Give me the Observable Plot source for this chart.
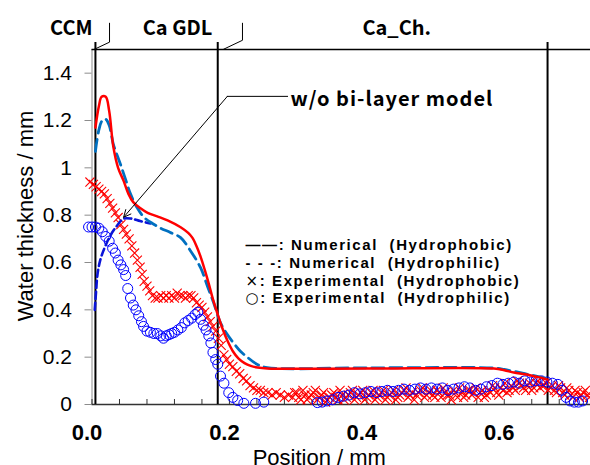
<!DOCTYPE html>
<html><head><meta charset="utf-8">
<script src="https://cdn.jsdelivr.net/npm/d3@7"></script>
<script src="https://cdn.jsdelivr.net/npm/@observablehq/plot@0.6"></script>
<style>body{margin:0;background:#fff} svg{display:block}</style>
</head><body><div id="chart"></div>
<script>
// ---------- DATA ----------
const numPhobicX = [0.005,0.010,0.014,0.020,0.025,0.031,0.038,0.046,0.053,0.060,0.070,0.081,0.095,0.110,0.129,0.140,0.146,0.152,0.158,0.164,0.170,0.176,0.183,0.190,0.197,0.205,0.213,0.222,0.231,0.241,0.255,0.400,0.585,0.600,0.614,0.630,0.643,0.655,0.663];
const numPhobicY = [1.17,1.26,1.30,1.30,1.24,1.09,1.00,0.945,0.89,0.855,0.83,0.81,0.795,0.778,0.749,0.725,0.705,0.67,0.625,0.57,0.51,0.445,0.38,0.32,0.27,0.225,0.195,0.175,0.163,0.156,0.152,0.152,0.152,0.145,0.135,0.128,0.12,0.112,0.105];

const numPhilicX = [0.005,0.010,0.015,0.020,0.025,0.031,0.037,0.042,0.049,0.056,0.066,0.076,0.088,0.100,0.114,0.129,0.143,0.158,0.168,0.177,0.187,0.196,0.206,0.216,0.226,0.240,0.255,0.400,0.585,0.600,0.614,0.630,0.643,0.655,0.663];
const numPhilicY = [1.07,1.16,1.20,1.205,1.18,1.10,1.05,1.01,0.95,0.89,0.83,0.79,0.765,0.745,0.727,0.705,0.651,0.578,0.50,0.43,0.345,0.30,0.26,0.225,0.20,0.17,0.156,0.155,0.154,0.148,0.14,0.13,0.122,0.114,0.108];

const noBilayerX = [0.004,0.006,0.008,0.012,0.018,0.026,0.035,0.046,0.058,0.070,0.085];
const noBilayerY = [0.40,0.48,0.55,0.61,0.66,0.71,0.75,0.785,0.785,0.775,0.765];

const expPhobicX = [-0.003,0.002,0.006,0.010,0.014,0.018,0.022,0.026,0.030,0.034,0.038,0.042,0.046,0.050,0.054,0.058,0.062,0.066,0.070,0.073,0.076,0.080,0.084,0.088,0.092,0.096,0.100,0.104,0.108,0.112,0.116,0.120,0.124,0.128,0.132,0.136,0.140,0.144,0.148,0.152,0.156,0.160,0.164,0.168,0.172,0.176,0.180,0.184,0.188,0.192,0.196,0.200,0.205,0.210,0.215,0.220,0.225,0.230,0.235,0.240,0.245,0.250,0.256,0.262,0.268,0.274,0.280,0.286,
0.292,0.298,0.304,0.310,0.316,0.322,0.328,0.334,0.340,0.346,0.352,0.358,0.364,0.370,0.376,0.382,0.388,0.394,0.400,0.406,0.412,0.418,0.424,0.430,0.436,0.442,0.448,0.454,0.460,0.466,0.472,0.478,0.484,0.490,0.496,0.502,0.508,0.514,0.520,0.526,0.532,0.538,0.544,0.550,0.556,0.562,0.568,0.574,0.580,0.586,0.592,0.598,0.604,0.610,0.616,0.622,0.628,0.634,0.640,0.646,0.652,0.658,0.664,0.670,0.676,0.682,0.688,0.694,0.700,0.706,0.712,0.718,0.724,
0.295,0.301,0.307,0.313,0.319,0.325,0.331,0.337,0.343,0.349,0.355,0.361,0.367,0.373,0.379,0.385,0.391,0.397,0.403,0.409,0.415,0.421,0.427,0.433,0.439,0.445,0.451,0.457,0.463,0.469,0.475,0.481,0.487,0.493,0.499,0.505,0.511,0.517,0.523,0.529,0.535,0.541,0.547,0.553,0.559,0.565,0.571,0.577,0.583,0.589,0.595,0.601,0.607,0.613,0.619,0.625,0.631,0.637,0.643,0.649,0.655,0.661,0.667,0.673,0.679,0.685,0.691,0.697,0.703,0.709,0.715,0.721];
const expPhobicY = [0.94,0.93,0.92,0.91,0.90,0.89,0.87,0.85,0.83,0.81,0.79,0.76,0.74,0.72,0.70,0.67,0.64,0.61,0.58,0.55,0.52,0.50,0.48,0.46,0.45,0.45,0.46,0.45,0.46,0.45,0.46,0.45,0.47,0.46,0.46,0.45,0.46,0.46,0.45,0.43,0.42,0.41,0.39,0.37,0.35,0.33,0.31,0.28,0.25,0.21,0.19,0.17,0.16,0.14,0.13,0.11,0.10,0.08,0.07,0.06,0.06,0.05,0.05,0.04,0.05,0.04,0.03,0.04,
0.03,0.05,0.02,0.04,0.03,0.05,0.02,0.04,0.01,0.03,0.05,0.02,0.04,0.03,0.05,0.02,0.04,0.06,0.03,0.05,0.02,0.04,0.06,0.03,0.05,0.02,0.04,0.06,0.03,0.05,0.04,0.06,0.03,0.05,0.04,0.06,0.03,0.05,0.04,0.06,0.03,0.05,0.04,0.06,0.05,0.03,0.06,0.04,0.05,0.07,0.04,0.06,0.05,0.08,0.06,0.09,0.07,0.08,0.06,0.09,0.07,0.08,0.06,0.08,0.05,0.07,0.04,0.06,0.03,0.05,0.04,0.06,0.03,
0.05,0.03,0.06,0.02,0.04,0.06,0.03,0.05,0.02,0.04,0.03,0.06,0.02,0.04,0.06,0.03,0.05,0.02,0.04,0.06,0.03,0.05,0.02,0.04,0.06,0.03,0.05,0.07,0.04,0.02,0.05,0.07,0.04,0.06,0.03,0.05,0.07,0.04,0.02,0.05,0.07,0.03,0.06,0.04,0.07,0.05,0.03,0.06,0.08,0.05,0.07,0.09,0.06,0.07,0.10,0.08,0.06,0.09,0.07,0.10,0.08,0.09,0.07,0.06,0.08,0.05,0.07,0.04,0.06,0.03,0.05,0.04];

const expPhilicX = [-0.005,0.000,0.005,0.010,0.015,0.020,0.025,0.030,0.034,0.038,0.042,0.046,0.049,0.052,0.056,0.060,0.064,0.068,0.072,0.075,0.080,0.085,0.090,0.095,0.100,0.104,0.108,0.112,0.116,0.120,0.125,0.130,0.135,0.140,0.145,0.150,0.154,0.158,0.162,0.166,0.170,0.173,0.176,0.180,0.183,0.187,0.192,0.199,0.205,0.212,0.221,0.238,0.250,
0.328,0.335,0.342,0.350,0.358,0.366,0.374,0.382,0.390,0.398,0.406,0.414,0.422,0.430,0.438,0.446,0.454,0.462,0.470,0.478,0.486,0.494,0.502,0.510,0.518,0.526,0.534,0.542,0.550,0.558,0.566,0.574,0.582,0.590,0.598,0.606,0.614,0.622,0.630,0.638,0.646,0.654,0.662,0.670,0.678,0.684,0.690,0.696,0.702,0.708,0.714];
const expPhilicY = [0.75,0.75,0.75,0.745,0.73,0.71,0.69,0.66,0.64,0.61,0.59,0.57,0.545,0.49,0.45,0.42,0.40,0.375,0.35,0.33,0.31,0.305,0.30,0.30,0.29,0.28,0.29,0.295,0.30,0.305,0.315,0.325,0.345,0.355,0.365,0.38,0.39,0.36,0.335,0.315,0.29,0.26,0.22,0.19,0.17,0.12,0.09,0.05,0.03,0.017,0.005,0.005,0.01,
0.008,0.01,0.015,0.02,0.03,0.035,0.04,0.05,0.045,0.05,0.055,0.05,0.055,0.06,0.055,0.06,0.065,0.06,0.065,0.07,0.065,0.07,0.065,0.07,0.06,0.065,0.07,0.075,0.07,0.06,0.065,0.075,0.08,0.09,0.085,0.09,0.095,0.09,0.10,0.095,0.10,0.10,0.095,0.09,0.085,0.06,0.03,0.015,0.01,0.01,0.015];

const yTicks = [0,0.2,0.4,0.6,0.8,1.0,1.2,1.4];
const yTickLabels = ["0","0.2","0.4","0.6","0.8","1","1.2","1.4"];
const xMinorTicks = [0,0.04,0.08,0.12,0.16,0.2,0.24,0.28,0.32,0.36,0.4,0.44,0.48,0.52,0.56,0.6,0.64,0.68,0.72];
const xLabelTicks = [0,0.2,0.4,0.6];
const xTickLabels = ["0.0","0.2","0.4","0.6"];

const zoneBoundaries = [0.005,0.183,0.663];
const zoneLabels = ["CCM","Ca GDL","Ca_Ch."];
const zoneLabelX = [-0.030,0.1245,0.4435];
const calloutCCM = [[0.0255,1.611],[0.0255,1.531],[0.0036,1.501]];
const calloutGDL = [[0.219,1.611],[0.219,1.539],[0.1915,1.501]];

const legendSymbols = ["——", "-\u00a0-\u00a0-", "×", "○"];
const legendLabels = [": Numerical\u00a0\u00a0(Hydrophobic)", ": Numerical\u00a0\u00a0(Hydrophilic)", ": Experimental\u00a0\u00a0(Hydrophobic)", ": Experimental\u00a0\u00a0(Hydrophilic)"];
const annotationText = "w/o bi-layer model";
const annotationLeader = {x1:0.197, y1:1.302, x2:0.046, y2:0.791, xEnd:0.286};

// ---------- CHART ----------
const pts = (xs, ys) => xs.map((x, i) => ({x, y: ys[i]}));
const gothic = "'Noto Sans CJK JP', 'Noto Sans', sans-serif";
const xMax = 0.7255, yMax = 1.5, ruleTop = 1.53;

const chart = Plot.plot({
  width: 590, height: 465,
  marginLeft: 91.5, marginRight: 0, marginTop: 49, marginBottom: 61,
  x: {domain: [0, xMax], axis: null},
  y: {domain: [0, yMax], axis: null},
  style: {fontFamily: "'Liberation Sans', Arial, sans-serif", background: "white", overflow: "visible", color: "black"},
  marks: [
    Plot.ruleX([0], {y1: 0, y2: yMax, stroke: "#8c8c8c", strokeWidth: 1}),
    Plot.axisY({ticks: yTicks, tickSize: 7, tickPadding: 13, stroke: "#8c8c8c", fill: "black", fontSize: 21,
      tickFormat: d => yTickLabels[yTicks.indexOf(d)], label: null}),
    Plot.ruleY([yMax], {stroke: "black", strokeWidth: 1.3}),
    Plot.axisX({ticks: xMinorTicks, tickSize: -5, stroke: "#333", tickFormat: () => "", label: null}),
    Plot.ruleY([0], {stroke: "#333", strokeWidth: 1.5}),
    Plot.text(xLabelTicks, {x: d => d, text: (d, i) => xTickLabels[i], frameAnchor: "bottom", dy: 35, dx: -5,
      fontWeight: "bold", fontSize: 22}),
    Plot.text(["Water thickness / mm"], {frameAnchor: "left", textAnchor: "middle", rotate: -90, dx: -66.5, dy: -11, fontSize: 22}),
    Plot.text(["Position / mm"], {frameAnchor: "bottom", textAnchor: "middle", dx: -22, dy: 60, fontSize: 22}),
    Plot.ruleX(zoneBoundaries, {y1: 0, y2: ruleTop, stroke: "black", strokeWidth: 2}),
    Plot.line(calloutCCM, {x: d => d[0], y: d => d[1], stroke: "black", strokeWidth: 1}),
    Plot.line(calloutGDL, {x: d => d[0], y: d => d[1], stroke: "black", strokeWidth: 1}),
    Plot.text(zoneLabels, {x: (d, i) => zoneLabelX[i], y: 1.588, fontFamily: gothic, fontWeight: "bold", fontSize: 20}),
    Plot.dot(pts(expPhobicX, expPhobicY), {x: "x", y: "y", symbol: "times", r: 4.2, stroke: "#ff0000", strokeWidth: 1.1}),
    Plot.dot(pts(expPhilicX, expPhilicY), {x: "x", y: "y", symbol: "circle", r: 5, stroke: "#0000ff", strokeWidth: 1, fill: "none"}),
    Plot.line(pts(noBilayerX, noBilayerY), {x: "x", y: "y", stroke: "#0a14d8", strokeWidth: 2.6, strokeDasharray: "7,4", curve: "catmull-rom"}),
    Plot.line(pts(numPhilicX, numPhilicY), {x: "x", y: "y", stroke: "#0070c0", strokeWidth: 2.8, strokeDasharray: "12,6", curve: "catmull-rom"}),
    Plot.line(pts(numPhobicX, numPhobicY), {x: "x", y: "y", stroke: "#ff0000", strokeWidth: 2.5, curve: "catmull-rom"}),
    Plot.ruleY([annotationLeader.y1], {x1: annotationLeader.x1, x2: annotationLeader.xEnd, stroke: "black", strokeWidth: 1}),
    Plot.arrow([annotationLeader], {x1: "x1", y1: "y1", x2: "x2", y2: "y2", stroke: "black", strokeWidth: 1, headLength: 12, headAngle: 50}),
    Plot.text([annotationText], {x: 0.289, y: 1.29, textAnchor: "start", fontFamily: gothic, fontWeight: "bold", fontSize: 20}),
    Plot.text(legendLabels, {x: 0.2234, y: (d, i) => 0.672 - i * 0.0749, text: (d, i) => legendSymbols[i] + d,
      textAnchor: "start", fontWeight: "bold", fontSize: 15})
  ]
});
// typographic tweaks: letter spacing of the gothic-style texts, larger marker glyphs in the legend
d3.select(chart).selectAll("text").each(function() {
  const t = this.textContent;
  if (t === annotationText) this.style.letterSpacing = "1px";
  const i = legendSymbols.findIndex((s, k) => t === s + legendLabels[k]);
  if (i >= 0) {
    this.style.letterSpacing = "1.6px";
    this.textContent = "";
    const sym = d3.select(this).append("tspan").text(legendSymbols[i]);
    if (i >= 2) sym.style("font-family", "'DejaVu Sans', sans-serif").style("font-size", "15px").style("font-weight", "normal");
    d3.select(this).append("tspan").text(legendLabels[i]);
  }
});
document.getElementById("chart").appendChild(chart);
</script>
</body></html>
